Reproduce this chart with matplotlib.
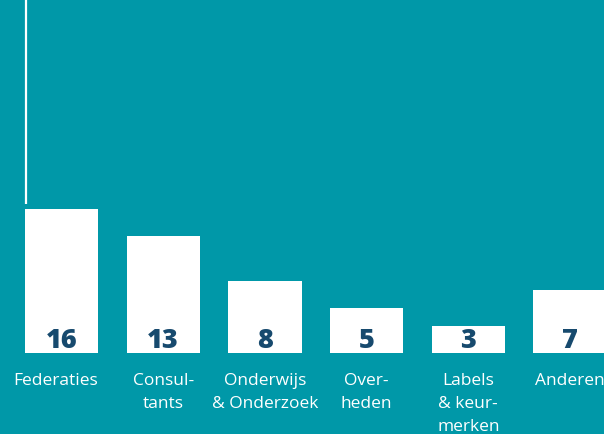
import matplotlib
matplotlib.use("Agg")
import matplotlib.pyplot as plt

categories = ["Federaties", "Consul-\ntants", "Onderwijs\n& Onderzoek", "Over-\nheden",
              "Labels\n& keur-\nmerken", "Anderen"]
values = [16, 13, 8, 5, 3, 7]

BG = "#0098a8"
NAVY = "#174a6e"

W, H = 604, 434
fig = plt.figure(figsize=(W / 100, H / 100), dpi=100, facecolor=BG)

bottom_px = 353
ax = fig.add_axes([0, (H - bottom_px) / H, 1, bottom_px / H])
ax.set_facecolor(BG)

pitch = 101.7
x0 = 61.5
ax.set_xlim(-x0 / pitch, (W - x0) / pitch)
ax.set_ylim(0, bottom_px / 9.0)

xs = list(range(len(values)))
ax.bar(xs, values, width=0.72, color="white", edgecolor="none")

for x, v in zip(xs, values):
    ax.annotate(str(v), (x, 0), xytext=(0, -0.5), textcoords="offset points",
                ha="center", va="bottom", fontsize=19.5, fontweight="heavy",
                color=NAVY, family="Open Sans")
    # first label sits a little left of its bar in the original
    dx = -4.5 if x == 0 else 0
    ax.annotate(categories[x], (x, 0), xytext=(dx, -14.5), textcoords="offset points",
                ha="center", va="top", fontsize=12.5, color="white",
                family="Open Sans", linespacing=1.58)

# thin leader line above the first bar
line_x = (26.5 - x0) / pitch
ax.vlines(line_x, values[0] + 0.6, ax.get_ylim()[1], color="white", lw=1.6)

ax.axis("off")
fig.savefig("out.png", dpi=100, facecolor=BG)
